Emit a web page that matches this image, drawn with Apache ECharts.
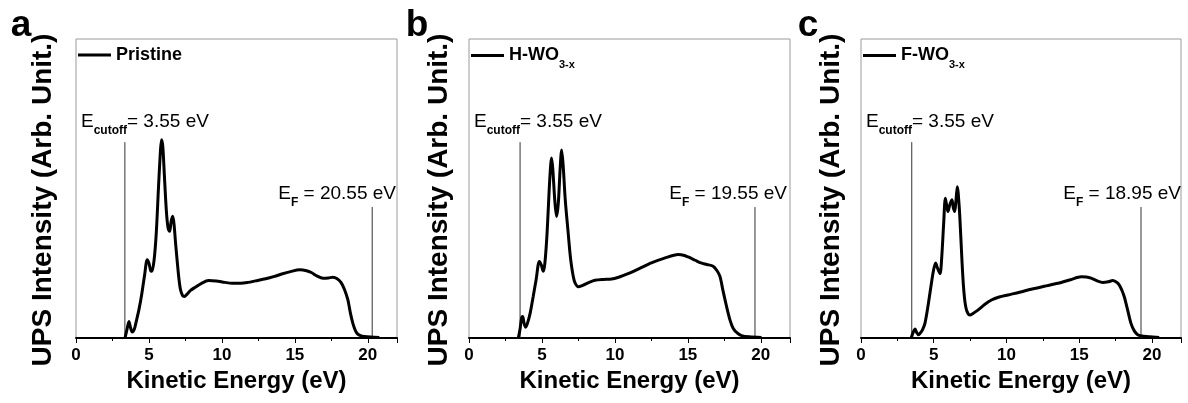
<!DOCTYPE html>
<html><head><meta charset="utf-8">
<script src="https://cdn.jsdelivr.net/npm/echarts@6/dist/echarts.min.js"></script>
<style>html,body{margin:0;padding:0;background:#fff}#c{width:1188px;height:403px}</style>
</head><body><div id="c"></div>
<script>
// ---------- data ----------
const panelLetters = ['a', 'b', 'c'];
const seriesNames = ['Pristine', 'H-WO3-x', 'F-WO3-x'];
const xTickInterval = 5;
const xMax = 22;

const pristine = [[3.36,0],[3.5,3],[3.63,5.5],[3.75,3.2],[3.85,2],[4.0,3],[4.15,6],[4.31,9.4],[4.5,14.5],[4.7,21],[4.88,26.2],[5.0,25],[5.12,22.5],[5.2,22.3],[5.35,26],[5.5,35],[5.65,50],[5.78,62],[5.86,66.3],[5.95,64],[6.05,55],[6.2,42],[6.32,36.5],[6.42,35.7],[6.52,39],[6.63,40.7],[6.72,38],[6.82,32],[6.93,26],[7.05,20],[7.16,16.2],[7.3,14.2],[7.43,13.9],[7.6,14.6],[7.85,15.9],[8.18,17],[8.6,18.3],[9.09,19.2],[9.6,19.1],[10.2,18.6],[10.7,18.3],[11.3,18.3],[11.8,18.6],[12.3,19.1],[13.0,19.8],[13.6,20.6],[14.1,21.4],[14.7,22.2],[15.34,22.8],[15.8,22.5],[16.13,21.9],[16.5,20.8],[16.93,20],[17.3,20.1],[17.6,20.3],[17.9,19.8],[18.17,18.5],[18.4,16.2],[18.63,12.8],[18.8,8.5],[18.97,5],[19.15,2.5],[19.31,1.3],[19.5,0.8],[19.77,0.5],[20.2,0.3],[20.79,0.2]];

const hwo = [[3.38,0],[3.5,3],[3.6,6.5],[3.68,7.2],[3.78,4.8],[3.88,3.6],[4.0,4.8],[4.2,8.5],[4.4,13.9],[4.6,19.5],[4.82,25.6],[4.95,24.5],[5.09,22.3],[5.2,25],[5.35,35],[5.5,50],[5.6,58],[5.66,60.2],[5.75,56],[5.88,46],[6.0,40.6],[6.12,45],[6.25,57],[6.35,62.9],[6.45,58],[6.6,46],[6.8,35],[6.93,28],[7.03,24],[7.15,20.5],[7.26,18.5],[7.49,17.1],[7.8,17.6],[8.2,18.5],[8.63,19.3],[9.2,19.6],[9.77,19.7],[10.3,20.4],[10.9,21.5],[11.7,23.3],[12.5,25.1],[13.4,26.7],[14.34,27.9],[14.7,27.7],[15.02,27.1],[15.5,26],[15.9,25.1],[16.3,24.6],[16.73,24],[17.0,22.5],[17.2,20.6],[17.4,16],[17.65,10.6],[17.9,5.8],[18.1,3.3],[18.4,1.6],[18.68,0.8],[19.2,0.4],[20.05,0.2]];

const fwo = [[3.45,0],[3.58,1.8],[3.72,3],[3.83,1.8],[3.95,1.1],[4.1,1.8],[4.25,3],[4.4,5],[4.6,10.5],[4.81,17.3],[4.98,22.5],[5.13,25.1],[5.25,23.5],[5.43,21.5],[5.55,27],[5.68,38],[5.8,46.7],[5.9,44],[5.98,42.3],[6.1,44.5],[6.25,46.2],[6.35,43.5],[6.44,42.3],[6.53,46],[6.62,50.6],[6.75,44],[6.85,35],[6.95,25],[7.05,17],[7.15,12],[7.28,9],[7.49,7.7],[7.7,8.2],[8.06,9.4],[8.5,11.2],[8.97,12.7],[9.5,13.7],[10.1,14.4],[10.9,15.3],[11.7,16.3],[12.6,17.3],[13.54,18.3],[14.4,19.5],[15.14,20.5],[15.5,20.4],[15.82,20],[16.2,19.2],[16.62,18.6],[17.0,18.8],[17.3,19.2],[17.55,18.7],[17.76,17.7],[17.95,15.8],[18.1,13.8],[18.3,10],[18.56,4.9],[18.8,2.3],[19.02,1.1],[19.3,0.7],[19.7,0.5],[20.5,0.2]];

const cutoffEnergy = [3.35, 3.5, 3.49];   // drawn x-position of cutoff marker line
const fermiEnergy = [20.3, 19.6, 19.25];  // drawn x-position of Fermi marker line
const cutoffTop = 65.5;
const fermiTop = 43.8;
const cutoffLabels = ['3.55', '3.55', '3.55'];
const fermiLabels = ['20.55', '19.55', '18.95'];
const legendMain = ['Pristine', 'H-WO', 'F-WO'];
const legendSub = ['', '3-x', '3-x'];

// ---------- layout ----------
const FONT = '"Liberation Sans", Arial, sans-serif';
const grids = [
  {left: 76, top: 39, width: 321, height: 299},
  {left: 469, top: 39, width: 321, height: 299},
  {left: 861, top: 39, width: 320, height: 299}
];
const yTitleX = [43, 439, 831];
const letterX = [21, 417, 808];
const cutoffTextX = [81, 474, 866];
const fermiTextX = [396, 787, 1181];
const legendTop = [46, 41, 41];
const curves = [pristine, hwo, fwo];

const chart = echarts.init(document.getElementById('c'), null, {renderer: 'canvas'});

const richSub = {
  m: {fontFamily: FONT, fontSize: 19, color: '#000', lineHeight: 38, verticalAlign: 'middle'},
  s: {fontFamily: FONT, fontSize: 12, fontWeight: 'bold', color: '#000', lineHeight: 12, padding: [18, 0, 0, 0]}
};
const richLegend = {
  m: {fontFamily: FONT, fontSize: 18, fontWeight: 'bold', color: '#000', lineHeight: 38, verticalAlign: 'middle'},
  s: {fontFamily: FONT, fontSize: 11, fontWeight: 'bold', color: '#000', lineHeight: 12, padding: [18, 0, 0, 0]}
};

const xAxes = [], yAxes = [], series = [], legends = [], graphics = [];
grids.forEach((g, i) => {
  g.show = true; g.borderColor = '#9a9a9a'; g.borderWidth = 1; g.backgroundColor = 'transparent';
  xAxes.push({
    gridIndex: i, type: 'value', min: 0, max: xMax, interval: xTickInterval,
    name: 'Kinetic Energy (eV)', nameLocation: 'middle', nameGap: 28,
    nameTextStyle: {fontFamily: FONT, fontSize: 24, fontWeight: 'bold', color: '#000'},
    axisLine: {show: true, onZero: false, lineStyle: {color: '#000', width: 2}},
    axisTick: {show: true, inside: false, length: 5, lineStyle: {color: '#000', width: 1}},
    minorTick: {show: true, splitNumber: 2, length: 3, lineStyle: {color: '#000', width: 1}},
    axisLabel: {fontFamily: FONT, fontSize: 17, fontWeight: 'bold', color: '#000', margin: 9, showMaxLabel: false},
    splitLine: {show: false}
  });
  yAxes.push({
    gridIndex: i, type: 'value', min: 0, max: 100,
    axisLine: {show: false}, axisTick: {show: false}, axisLabel: {show: false}, splitLine: {show: false}
  });
  series.push({
    name: seriesNames[i], type: 'line', xAxisIndex: i, yAxisIndex: i,
    data: curves[i], smooth: 0.3, symbol: 'none', color: '#000',
    lineStyle: {color: '#000', width: 3}, z: 3
  });
  series.push({
    type: 'line', xAxisIndex: i, yAxisIndex: i, symbol: 'none', silent: true,
    data: [[cutoffEnergy[i], 0], [cutoffEnergy[i], cutoffTop]],
    lineStyle: {color: '#333', width: 1}, z: 2
  });
  series.push({
    type: 'line', xAxisIndex: i, yAxisIndex: i, symbol: 'none', silent: true,
    data: [[fermiEnergy[i], 0], [fermiEnergy[i], fermiTop]],
    lineStyle: {color: '#333', width: 1}, z: 2
  });
  legends.push({
    data: [seriesNames[i]], left: g.left + 2, top: legendTop[i], orient: 'horizontal', padding: 0,
    icon: 'rect', itemWidth: 33, itemHeight: 3, selectedMode: false,
    formatter: () => legendSub[i] ? '{m|' + legendMain[i] + '}{s|' + legendSub[i] + '}' : '{m|' + legendMain[i] + '}',
    textStyle: {rich: richLegend}
  });
  graphics.push({
    type: 'text', x: letterX[i], y: 26,
    style: {text: panelLetters[i], font: 'bold 37px ' + FONT, fill: '#000', align: 'center', verticalAlign: 'middle'}
  });
  graphics.push({
    type: 'text', x: yTitleX[i], y: 200, rotation: Math.PI / 2,
    style: {text: 'UPS Intensity (Arb. Unit.)', font: 'bold 28px ' + FONT, fill: '#000', align: 'center', verticalAlign: 'middle'}
  });
  graphics.push({
    type: 'text', x: cutoffTextX[i], y: 122,
    style: {text: '{m|E}{s|cutoff}{m|= ' + cutoffLabels[i] + ' eV}', rich: richSub, align: 'left', verticalAlign: 'middle'}
  });
  graphics.push({
    type: 'text', x: fermiTextX[i], y: 194,
    style: {text: '{m|E}{s|F}{m| = ' + fermiLabels[i] + ' eV}', rich: richSub, align: 'right', verticalAlign: 'middle'}
  });
});

chart.setOption({
  animation: false,
  backgroundColor: '#fff',
  textStyle: {fontFamily: FONT},
  grid: grids, xAxis: xAxes, yAxis: yAxes, series: series, legend: legends, graphic: graphics
});
</script></body></html>
